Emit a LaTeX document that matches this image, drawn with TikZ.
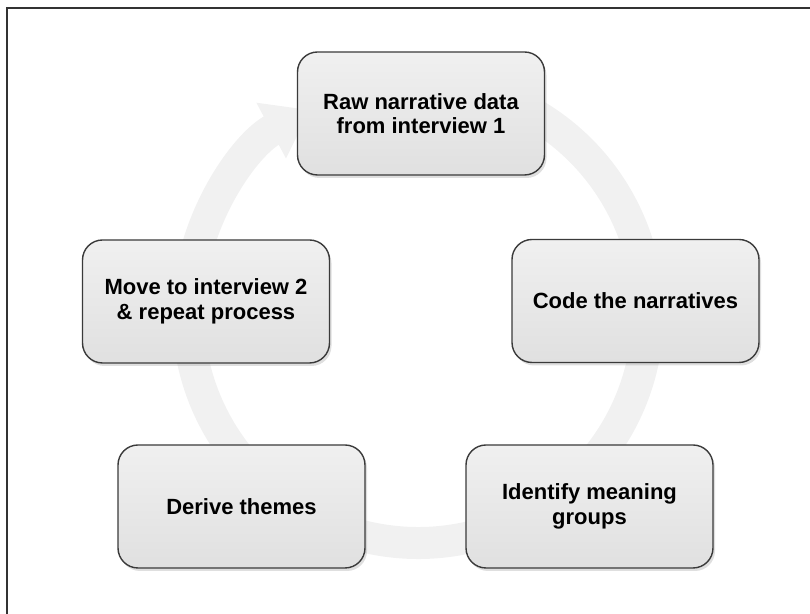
\documentclass[tikz,border=0pt]{standalone}
\usepackage{fontspec}
\setmainfont{Liberation Sans}
\usepackage{tikz}
\usetikzlibrary{positioning,shapes,arrows.meta,shadows}
\definecolor{BoxTop}{HTML}{F0F0F0}
\definecolor{BoxBottom}{HTML}{E0E0E0}
\definecolor{RingGray}{HTML}{F1F1F1}
\definecolor{EdgeGray}{HTML}{3A3A3A}

\begin{document}
\begin{tikzpicture}[x=0.5pt, y=0.5pt, line width=0.7pt,
    block/.style={
    draw=EdgeGray,
    rectangle,
    rounded corners=10pt,
    top color=BoxTop, bottom color=BoxBottom,
    minimum width=123.5pt, minimum height=61.5pt,
    align=center,
    drop shadow={shadow xshift=1pt, shadow yshift=-1.5pt, opacity=0.25},
    font=\fontsize{11}{12.2}\selectfont\bfseries}]
    \useasboundingbox (0,0) rectangle (810,614);
    \draw[line width=1pt, color=black!80] (7,0) -- (7,606) -- (810,606);

    \coordinate (Hub) at (418,301);
    \draw[line width=16pt, color=RingGray, -{Triangle[width=30pt, length=22pt]}]
        ([shift={(80:115pt)}]Hub) arc[start angle=80, end angle=-242, radius=115pt];

    \node [block] (RawData) at (421,500.5) {Raw narrative data\\from interview 1};
    \node [block] (CodeNarr) at (635.5,313) {Code the narratives};
    \node [block] (IdGroups) at (589.5,107.5) {Identify meaning\\groups};
    \node [block] (DeriveThemes) at (241.5,107.5) {Derive themes};
    \node [block] (MoveOn) at (206,312.5) {Move to interview 2\\\& repeat process};
\end{tikzpicture}
\end{document}
